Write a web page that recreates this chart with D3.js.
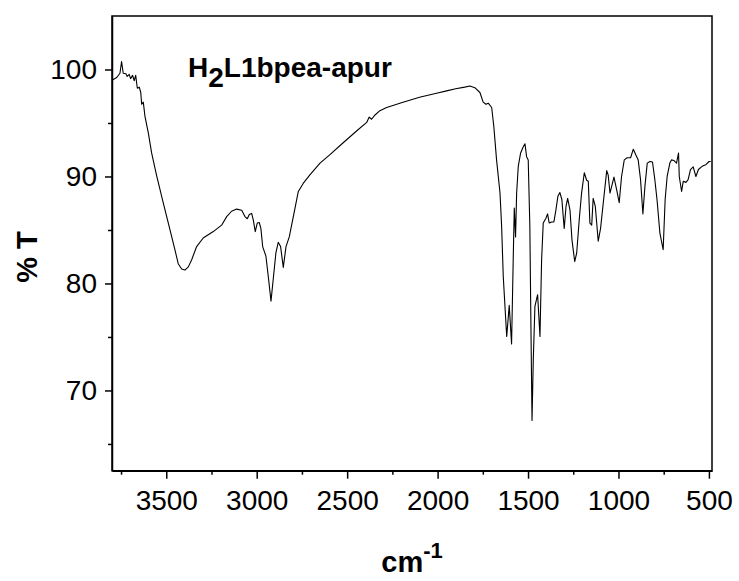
<!DOCTYPE html>
<html>
<head>
<meta charset="utf-8">
<script src="https://cdn.jsdelivr.net/npm/d3@7"></script>
<style>
  body { margin: 0; background: #fff; }
  svg text { font-family: 'Liberation Sans', Arial, sans-serif; fill: #000; }
</style>
</head>
<body>
<svg id="chart"></svg>
<script>
// IR spectrum, values
var wavenumbers = [3800, 3774, 3756, 3747, 3738, 3723, 3716, 3705, 3697, 3686, 3677, 3669, 3660, 3649, 3641, 3636, 3627, 3618, 3599, 3581,
  3553, 3517, 3480, 3452, 3434, 3415, 3397, 3378, 3360, 3332, 3296, 3240, 3194, 3166, 3139, 3111, 3083, 3065, 3052, 3041,
  3028, 3019, 3008, 2997, 2986, 2977, 2967, 2949, 2936, 2921, 2909, 2894, 2881, 2868, 2853, 2838, 2820, 2794, 2770, 2743,
  2706, 2650, 2595, 2522, 2448, 2392, 2378, 2365, 2346, 2319, 2282, 2264, 2200, 2100, 2000, 1950, 1900, 1850, 1821, 1794,
  1766, 1748, 1733, 1720, 1701, 1689, 1674, 1655, 1646, 1637, 1618, 1604, 1591, 1582, 1576, 1569, 1563, 1554, 1541, 1527,
  1517, 1508, 1499, 1490, 1484, 1478, 1471, 1462, 1447, 1434, 1425, 1416, 1401, 1392, 1383, 1370, 1357, 1346, 1335, 1324,
  1313, 1300, 1290, 1281, 1268, 1257, 1242, 1231, 1217, 1204, 1189, 1176, 1167, 1158, 1148, 1140, 1128, 1112, 1099, 1084,
  1065, 1057, 1047, 1038, 1025, 1010, 996, 983, 968, 952, 933, 918, 905, 891, 878, 865, 854, 841, 826, 812,
  799, 787, 771, 753, 742, 731, 716, 707, 694, 679, 668, 664, 651, 642, 627, 615, 602, 587, 572, 558,
  541, 532, 517, 499, 490];

var transmittance = [99.0, 99.25, 99.65, 100.75, 99.65, 99.6, 99.35, 99.55, 99.15, 99.45, 98.95, 99.45, 98.25, 98.35, 97.85, 96.75, 96.95, 95.65, 94.05, 92.2,
  90.05, 87.55, 85.05, 83.15, 81.85, 81.35, 81.25, 81.55, 82.2, 83.45, 84.25, 84.85, 85.45, 86.25, 86.75, 86.95, 86.85, 86.25, 86.05, 86.45,
  86.55, 85.95, 84.85, 85.65, 85.7, 85.15, 83.45, 82.55, 80.65, 78.35, 80.35, 82.85, 83.85, 83.45, 81.5, 83.45, 84.35, 86.55, 88.6, 89.35,
  90.15, 91.25, 92.05, 93.15, 94.25, 95.05, 95.55, 95.35, 95.75, 96.15, 96.45, 96.55, 96.9, 97.4, 97.8, 98.0, 98.2, 98.35, 98.45, 98.3,
  97.85, 96.95, 96.75, 96.85, 96.45, 94.65, 91.55, 88.45, 85.35, 80.65, 75.05, 77.95, 74.35, 82.2, 87.05, 84.35, 88.45, 90.95, 92.2, 92.75,
  93.05, 91.85, 91.55, 85.35, 75.95, 67.2, 72.85, 77.85, 78.95, 75.05, 82.2, 85.65, 86.1, 86.5, 85.65, 85.75, 85.75, 86.85, 88.15, 88.5,
  87.85, 85.15, 87.2, 87.95, 86.85, 84.05, 82.05, 82.85, 85.95, 88.45, 90.35, 89.65, 89.55, 85.65, 85.45, 87.95, 87.2, 83.95, 85.15, 87.55,
  90.55, 90.15, 88.45, 89.05, 89.95, 88.75, 87.55, 90.0, 91.55, 91.75, 91.75, 92.55, 92.05, 91.55, 89.7, 86.5, 89.05, 91.25, 91.4, 91.35,
  89.7, 87.85, 84.7, 83.15, 87.85, 90.0, 91.25, 91.55, 91.5, 91.25, 92.2, 90.0, 88.6, 89.55, 89.45, 89.7, 90.65, 90.9, 90.0, 90.65,
  90.9, 91.0, 91.1, 91.4, 91.4];

var xMajorTicks = [3500, 3000, 2500, 2000, 1500, 1000, 500];
var xMinorTicks = [3750, 3250, 2750, 2250, 1750, 1250, 750];
var yMajorTicks = [70, 80, 90, 100];
var yMinorTicks = [65, 75, 85, 95];

var svgWidth = 739;
var svgHeight = 581;

var plot = { left: 112, right: 712, top: 16, bottom: 470.7 };

var svg = d3.select('#chart').attr('width', svgWidth).attr('height', svgHeight);

var xScale = d3.scaleLinear().domain([3800, 483]).range([plot.left, plot.right]);
var yScale = d3.scaleLinear().domain([62.5, 105]).range([plot.bottom, plot.top]);

var points = wavenumbers.map((w, i) => [w, transmittance[i]]);

// spectrum line
svg.append('path')
  .datum(points)
  .attr('fill', 'none')
  .attr('stroke', '#000')
  .attr('stroke-width', 1.1)
  .attr('stroke-linejoin', 'round')
  .attr('d', d3.line().x((d) => xScale(d[0])).y((d) => yScale(d[1])));

// bottom axis
var xAxisG = svg.append('g')
  .attr('transform', 'translate(0,' + plot.bottom + ')')
  .call(d3.axisBottom(xScale).tickValues(xMajorTicks).tickSize(8).tickSizeOuter(0).tickFormat(d3.format('d')));
xAxisG.selectAll('text').attr('dy', null).attr('y', 39).style('font-size', '28px');

svg.append('g')
  .attr('transform', 'translate(0,' + plot.bottom + ')')
  .call(d3.axisBottom(xScale).tickValues(xMinorTicks).tickSize(4).tickSizeOuter(0).tickFormat(''))
  .select('.domain').remove();

// left axis
var yAxisG = svg.append('g')
  .attr('transform', 'translate(' + plot.left + ',0)')
  .call(d3.axisLeft(yScale).tickValues(yMajorTicks).tickSize(7).tickPadding(8).tickSizeOuter(0));
yAxisG.selectAll('text').style('font-size', '28px');

svg.append('g')
  .attr('transform', 'translate(' + plot.left + ',0)')
  .call(d3.axisLeft(yScale).tickValues(yMinorTicks).tickSize(4).tickSizeOuter(0).tickFormat(''))
  .select('.domain').remove();

svg.selectAll('.domain, .tick line').attr('stroke', '#000').attr('stroke-width', 1.5);
svg.selectAll('.tick text').attr('fill', '#000').style('font-family', "'Liberation Sans', Arial, sans-serif");

// full frame
svg.append('path')
  .attr('d', 'M' + plot.left + ',' + plot.bottom + 'V' + plot.top + 'H' + plot.right + 'V' + plot.bottom + 'Z')
  .attr('fill', 'none')
  .attr('stroke', '#000')
  .attr('stroke-width', 1.5);

// title inside plot
var title = svg.append('text')
  .attr('x', 188)
  .attr('y', 77)
  .style('font-size', '28px')
  .style('font-weight', 'bold');
title.append('tspan').text('H');
title.append('tspan').attr('dy', 10).text('2');
title.append('tspan').attr('dy', -10).text('L1bpea-apur');

// axis titles
var xTitle = svg.append('text')
  .attr('x', (plot.left + plot.right) / 2)
  .attr('y', 572)
  .attr('text-anchor', 'middle')
  .style('font-weight', 'bold')
  .style('font-size', '29px');
xTitle.append('tspan').text('cm');
xTitle.append('tspan').attr('dy', -14).style('font-size', '22px').text('-1');

svg.append('text')
  .attr('transform', 'translate(37,257) rotate(-90)')
  .attr('text-anchor', 'middle')
  .style('font-weight', 'bold')
  .style('font-size', '29px')
  .text('% T');
</script>
</body>
</html>
